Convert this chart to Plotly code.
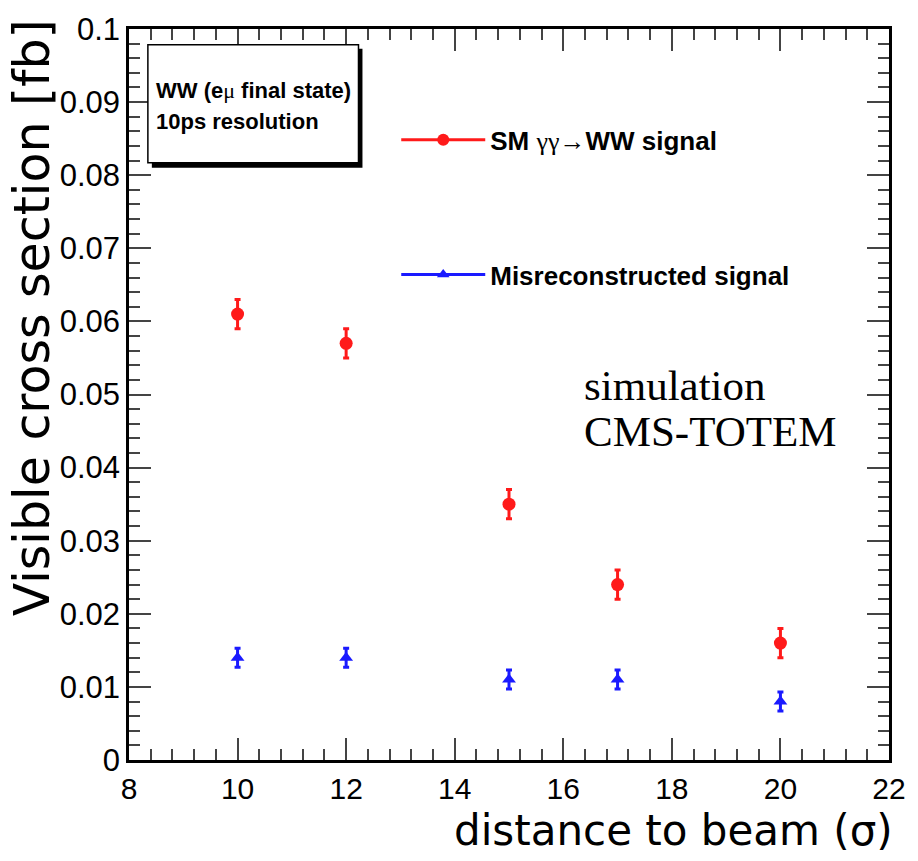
import plotly.graph_objects as go

# ---------------- data ----------------
distance = [10, 12, 15, 17, 20]
sm_signal = [0.061, 0.057, 0.035, 0.024, 0.016]
sm_signal_err = [0.002, 0.002, 0.002, 0.002, 0.002]
misreco = [0.014, 0.014, 0.011, 0.011, 0.008]
misreco_err = [0.0013, 0.0013, 0.0013, 0.0013, 0.0013]

x_ticks = [8, 10, 12, 14, 16, 18, 20, 22]
x_ticklabels = ["8", "10", "12", "14", "16", "18", "20", "22"]
y_ticks = [0, 0.01, 0.02, 0.03, 0.04, 0.05, 0.06, 0.07, 0.08, 0.09, 0.1]
y_ticklabels = ["0", "0.01", "0.02", "0.03", "0.04", "0.05", "0.06", "0.07", "0.08", "0.09", "0.1"]

legend_sm = "SM <span style='font-weight:normal;font-family:Liberation Serif'>γγ</span>→WW signal"
legend_mis = "Misreconstructed signal"
box_lines = ["WW (e<span style='font-weight:normal;font-family:Liberation Serif'>μ</span> final state)",
             "10ps resolution"]
sim_lines = ["simulation", "CMS-TOTEM"]

# ---------------- layout geometry ----------------
W, H = 918, 861
ML, MR, MT, MB = 129, 24, 22, 101
PW, PH = W - ML - MR, H - MT - MB


def px(x):
    return (x - ML) / PW


def py(y):
    return (H - MB - y) / PH


RED = "#ff1a1a"
BLUE = "#1a1aff"
SANS = "Liberation Sans, Arial, sans-serif"
WIDE = "DejaVu Sans, Liberation Sans, sans-serif"
SERIF = "Liberation Serif, Times New Roman, serif"

fig = go.Figure()

fig.add_trace(go.Scatter(
    x=distance, y=sm_signal, mode="markers", showlegend=False,
    marker=dict(symbol="circle", size=13, color=RED),
    error_y=dict(type="data", array=sm_signal_err, color=RED, thickness=3, width=3),
))
fig.add_trace(go.Scatter(
    x=distance, y=misreco, mode="markers", showlegend=False,
    marker=dict(symbol="triangle-up", size=12, color=BLUE),
    error_y=dict(type="data", array=misreco_err, color=BLUE, thickness=3, width=3),
))

# legend entries
fig.add_trace(go.Scatter(
    x=[None], y=[None], mode="lines+markers", name=legend_sm, legend="legend",
    line=dict(color=RED, width=3), marker=dict(symbol="circle", size=12, color=RED),
))
fig.add_trace(go.Scatter(
    x=[None], y=[None], mode="lines+markers", name=legend_mis, legend="legend2",
    line=dict(color=BLUE, width=3), marker=dict(symbol="triangle-up", size=11, color=BLUE),
))

legend_common = dict(
    xanchor="left", yanchor="middle", bgcolor="rgba(0,0,0,0)", borderwidth=0,
    itemwidth=84, font=dict(family=SANS, size=26, color="black", weight="bold"),
)
fig.update_layout(
    legend=dict(x=px(398), y=py(134), **legend_common),
    legend2=dict(x=px(398), y=py(270), **legend_common),
)

# info box with shadow
shapes = [
    dict(type="rect", xref="paper", yref="paper", x0=px(152), x1=px(364), y0=py(162), y1=py(42),
         fillcolor="black", line=dict(width=0), layer="above"),
    dict(type="rect", xref="paper", yref="paper", x0=px(148), x1=px(360), y0=py(157), y1=py(38),
         fillcolor="white", line=dict(color="black", width=1.5), layer="above"),
]

annotations = [
    dict(text="<b>" + box_lines[0] + "</b>", x=px(154), y=py(84), xref="paper", yref="paper",
         xanchor="left", yanchor="middle", showarrow=False,
         font=dict(family=SANS, size=22, color="black")),
    dict(text="<b>" + box_lines[1] + "</b>", x=px(154), y=py(115), xref="paper", yref="paper",
         xanchor="left", yanchor="middle", showarrow=False,
         font=dict(family=SANS, size=22, color="black")),
    dict(text=sim_lines[0], x=px(585), y=py(382), xref="paper", yref="paper",
         xanchor="left", yanchor="middle", showarrow=False,
         font=dict(family=SERIF, size=43, color="black")),
    dict(text=sim_lines[1], x=px(585), y=py(428), xref="paper", yref="paper",
         xanchor="left", yanchor="middle", showarrow=False,
         font=dict(family=SERIF, size=43, color="black")),
    # axis titles
    dict(text="Visible cross section [fb]", x=px(32), y=py(10), xref="paper", yref="paper",
         xanchor="center", yanchor="top", textangle=-90, showarrow=False,
         font=dict(family=WIDE, size=49, color="black")),
    dict(text="distance to beam (σ)", x=px(900), y=py(831), xref="paper", yref="paper",
         xanchor="right", yanchor="middle", showarrow=False,
         font=dict(family=WIDE, size=42, color="black")),
]

fig.update_layout(
    width=W, height=H,
    margin=dict(l=ML, r=MR, t=MT, b=MB, pad=0),
    paper_bgcolor="white", plot_bgcolor="white",
    shapes=shapes, annotations=annotations,
    xaxis=dict(
        range=[8, 22], tickvals=x_ticks, ticktext=x_ticklabels,
        showgrid=False, zeroline=False, showline=True, linecolor="black", linewidth=2.5,
        mirror="ticks", ticks="inside", ticklen=22, tickwidth=1.5, tickcolor="#444",
        minor=dict(dtick=0.4, tick0=8, ticks="inside", ticklen=11, tickwidth=1.5, tickcolor="#444", showgrid=False),
        tickfont=dict(family=SANS, size=30, color="black"),
    ),
    yaxis=dict(
        range=[0, 0.1], tickvals=y_ticks, ticktext=y_ticklabels,
        showgrid=False, zeroline=False, showline=True, linecolor="black", linewidth=2.5,
        mirror="ticks", ticks="inside", ticklen=22, tickwidth=1.5, tickcolor="#444",
        minor=dict(dtick=0.002, tick0=0, ticks="inside", ticklen=11, tickwidth=1.5, tickcolor="#444", showgrid=False),
        tickfont=dict(family=SANS, size=31, color="black"),
    ),
)

fig.write_html("out.html")
